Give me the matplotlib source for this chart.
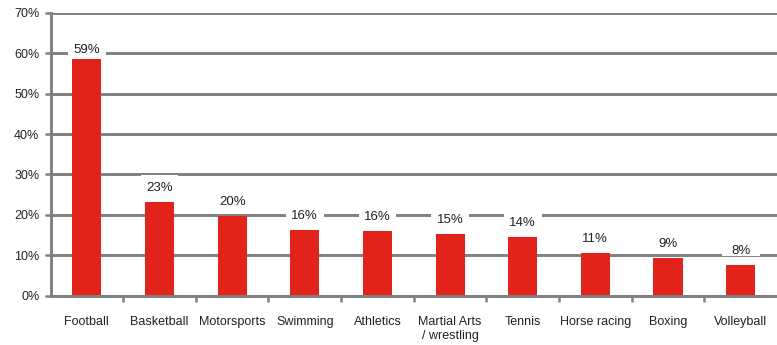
import matplotlib.pyplot as plt
import matplotlib.transforms as mtransforms
from matplotlib.patches import Rectangle

sports = ['Football', 'Basketball', 'Motorsports', 'Swimming', 'Athletics',
          'Martial Arts\n/ wrestling', 'Tennis', 'Horse racing', 'Boxing', 'Volleyball']
# bar heights as drawn, and the rounded labels printed above them
shares = [58.6, 23.2, 19.6, 16.3, 15.9, 15.3, 14.5, 10.6, 9.2, 7.6]
share_labels = ['59%', '23%', '20%', '16%', '16%', '15%', '14%', '11%', '9%', '8%']
yticks = [0, 10, 20, 30, 40, 50, 60, 70]

red = '#e2231a'
grey = '#808080'

plt.rcParams['font.family'] = ['Liberation Sans', 'DejaVu Sans']

fig = plt.figure(figsize=(7.77, 3.45), dpi=100)
ax = fig.add_axes([0.065, 0.143, 0.935, 0.82])

x = list(range(len(sports)))
ax.bar(x, shares, width=0.4, color=red, zorder=3)

ax.set_xlim(-0.5, len(sports) - 0.5)
ax.set_ylim(0, 70)
ax.set_yticks(yticks)
ax.set_yticklabels([f'{t}%' for t in yticks], fontsize=9, color='#222222')
ax.set_xticks(x)
ax.set_xticklabels(sports, fontsize=9, color='#222222', linespacing=1.2)
ax.set_xticks([i + 0.5 for i in x[:-1]], minor=True)
ax.tick_params(axis='x', which='major', length=0, pad=15)
ax.tick_params(axis='x', which='minor', length=4, width=1.8, color=grey, direction='out')
ax.tick_params(axis='y', length=4, width=1.8, color=grey, direction='out', pad=4)

ax.yaxis.grid(True, color=grey, linewidth=2.1, zorder=0)
ax.set_axisbelow(True)
for side in ['top', 'right']:
    ax.spines[side].set_visible(False)
for side in ['left', 'bottom']:
    ax.spines[side].set_color(grey)
    ax.spines[side].set_linewidth(2.1)
ax.spines['bottom'].set_zorder(4)

# white label boxes break the gridlines like the Excel data labels do
axh = 0.82 * 345
trans = mtransforms.blended_transform_factory(ax.transData, ax.transAxes)
for i, (v, lab) in enumerate(zip(shares, share_labels)):
    gap = 9 if i == 0 else 14
    yc = v / 70 + gap / axh
    ax.add_patch(Rectangle((i - 0.26, yc - 5 / axh), 0.52, 18 / axh,
                           transform=trans, facecolor='white', edgecolor='none',
                           zorder=2))
    ax.text(i, yc, lab, transform=trans, ha='center', va='center',
            fontsize=9.5, color='#222222', zorder=5)

fig.savefig('out.png', dpi=100)
